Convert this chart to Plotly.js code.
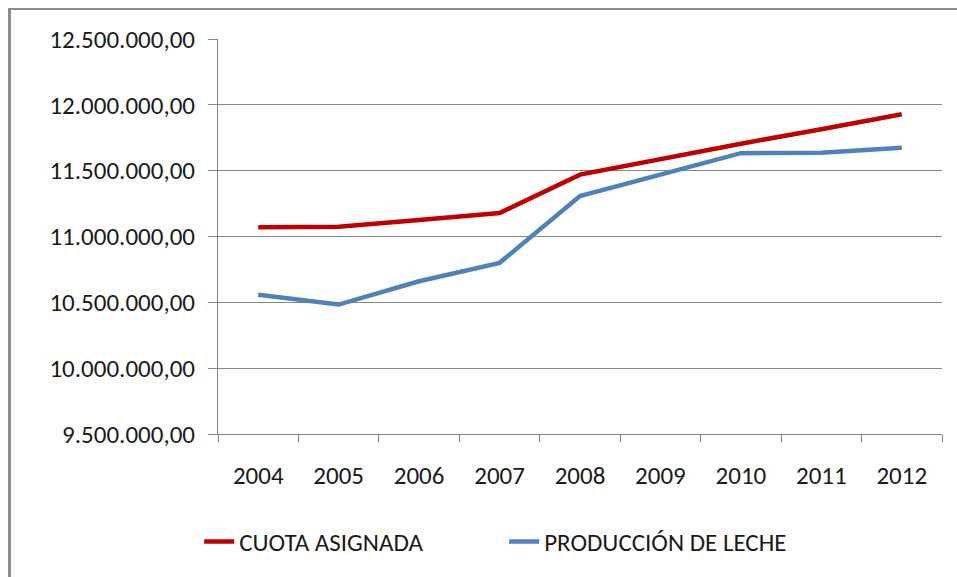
<!DOCTYPE html>
<html>
<head>
<meta charset="utf-8">
<script src="https://cdn.plot.ly/plotly-3.0.1.min.js"></script>
<style>
  body { margin: 0; background: #fff; }
  #chart { width: 957px; height: 577px; }
  /* grey chart frame, only left and top edges show in the picture */
  #frame {
    position: absolute; left: 8px; top: 8px; width: 1200px; height: 800px;
    border-left: 3px solid #8e8e8e; border-top: 2px solid #8e8e8e;
    pointer-events: none;
  }
</style>
</head>
<body>
<div id="chart"></div>
<div id="frame"></div>
<script>
// Data
const years = ['2004', '2005', '2006', '2007', '2008', '2009', '2010', '2011', '2012'];
const cuotaAsignada = [11070000, 11075000, 11125000, 11178000, 11470000, 11588000, 11705000, 11815000, 11928000];
const produccionLeche = [10558000, 10483000, 10660000, 10800000, 11307000, 11470000, 11633000, 11637000, 11675000];

const fontFam = 'Carlito, Lato, "Open Sans", sans-serif';

var trace1 = {
    x: years,
    y: cuotaAsignada,
    name: 'CUOTA ASIGNADA',
    mode: 'lines',
    line: { color: '#C00000', width: 4.5 }
};

var trace2 = {
    x: years,
    y: produccionLeche,
    name: 'PRODUCCIÓN DE LECHE',
    mode: 'lines',
    line: { color: '#4F81BD', width: 4.5 }
};

var layout = {
    width: 957,
    height: 577,
    margin: { l: 218, r: 15, t: 39, b: 140 },
    paper_bgcolor: '#fff',
    plot_bgcolor: '#fff',
    separators: ',.',
    font: { family: fontFam, size: 25, color: '#1a1a1a' },
    showlegend: true,
    legend: {
        orientation: 'h',
        x: -0.026, xanchor: 'left',
        y: -0.273, yanchor: 'middle',
        font: { family: fontFam, size: 25, color: '#1a1a1a' },
        entrywidth: 260
    },
    xaxis: {
        type: 'category',
        range: [-0.5, years.length - 0.5],
        showgrid: false,
        showline: true,
        linecolor: '#868686',
        linewidth: 1,
        ticks: 'outside',
        tickson: 'boundaries',
        ticklen: 7,
        tickcolor: '#868686',
        ticklabelstandoff: 19,
        zeroline: false
    },
    yaxis: {
        range: [9500000, 12500000],
        dtick: 500000,
        tickformat: ',.2f',
        showgrid: true,
        gridcolor: '#868686',
        gridwidth: 1,
        showline: true,
        linecolor: '#868686',
        linewidth: 1,
        ticks: 'outside',
        ticklen: 9,
        tickcolor: '#868686',
        ticklabelstandoff: 8,
        zeroline: false
    }
};

Plotly.newPlot('chart', [trace1, trace2], layout, { displayModeBar: false, staticPlot: true });
</script>
</body>
</html>
